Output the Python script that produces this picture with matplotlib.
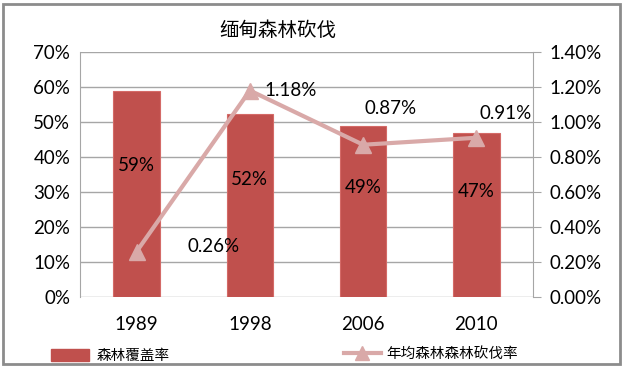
import matplotlib
matplotlib.use("Agg")
import matplotlib.pyplot as plt
from matplotlib.lines import Line2D
from matplotlib.patches import Patch, Rectangle
import numpy as np

plt.rcParams['font.family'] = ['Lato', 'Noto Sans CJK SC', 'DejaVu Sans']

title = "缅甸森林砍伐"
years = ["1989", "1998", "2006", "2010"]
coverage = [58.8, 52.3, 48.8, 47.0]           # % forest coverage (bars)
coverage_labels = ["59%", "52%", "49%", "47%"]
defor = [0.26, 1.18, 0.87, 0.91]              # % annual deforestation rate (line)
defor_labels = ["0.26%", "1.18%", "0.87%", "0.91%"]
bar_name = "森林覆盖率"
line_name = "年均森林森林砍伐率"

bar_color = "#C0504D"
line_color = "#D9A9A8"
fs = 13.5

fig = plt.figure(figsize=(6.29, 3.68), dpi=100)
ax = fig.add_axes([80/629, 1-297/368, (533-80)/629, (297-52)/368])
x = np.arange(len(years))

ax.bar(x, coverage, width=0.41, color=bar_color, edgecolor="#D46A67", linewidth=0.8, zorder=2)
ax.set_xlim(-0.5, len(years)-0.5)
ax.set_ylim(0, 70)
ax.set_yticks(np.arange(0, 71, 10))
ax.set_yticklabels([f"{v}%" for v in range(0, 71, 10)])
ax.set_xticks(x)
ax.set_xticklabels(years)
ax.grid(axis='y', color="#A6A6A6", linewidth=1, zorder=0)
ax.set_axisbelow(True)
for s in ['top', 'right', 'bottom']:
    ax.spines[s].set_visible(False)
ax.spines['left'].set_color("#A6A6A6")
ax.tick_params(axis='y', length=0, pad=7, labelsize=fs)
ax.tick_params(axis='x', length=0, pad=14, labelsize=fs)

for xi, v, lab in zip(x, coverage, coverage_labels):
    ax.text(xi, v*0.64, lab, ha='center', va='center', fontsize=fs, color='black', zorder=3)

ax2 = ax.twinx()
ax2.plot(x, defor, color=line_color, linewidth=3, marker='^', markersize=11,
         markerfacecolor=line_color, markeredgecolor=line_color, zorder=4)
ax2.set_ylim(0, 1.4)
ax2.set_yticks(np.arange(0, 1.41, 0.2))
ax2.set_yticklabels([f"{v:.2f}%" for v in np.arange(0, 1.41, 0.2)])
for s in ['top', 'left', 'bottom']:
    ax2.spines[s].set_visible(False)
ax2.spines['right'].set_color("#A6A6A6")
ax2.tick_params(axis='y', length=6, color="#A6A6A6", pad=6, labelsize=fs)

offsets = [(0.68, 0.03), (0.36, 0.0), (0.24, 0.21), (0.26, 0.14)]
for xi, v, lab, (dx, dy) in zip(x, defor, defor_labels, offsets):
    ax2.text(xi + dx, v + dy, lab, ha='center', va='center', fontsize=fs, color='black', zorder=5)

fig.text(278/629, 1-30/368, title, ha='center', va='center', fontsize=14)

# legends
h1 = Patch(facecolor=bar_color, edgecolor=bar_color)
fig.legend([h1], [bar_name], loc='center left', bbox_to_anchor=(38/629, 1-356/368),
           frameon=False, fontsize=10.5, handlelength=2.6, handleheight=0.8, handletextpad=0.5)
h2 = Line2D([0], [0], color=line_color, linewidth=3, marker='^', markersize=10,
            markerfacecolor=line_color, markeredgecolor=line_color)
fig.legend([h2], [line_name], loc='center left', bbox_to_anchor=(331/629, 1-354/368),
           frameon=False, fontsize=10.5, handlelength=2.5, handletextpad=0.4)

fig.patches.append(Rectangle((3/629, 4/368), 617/629, 360/368, transform=fig.transFigure,
                             fill=False, edgecolor="#8C8C8C", linewidth=2))

fig.savefig("out.png", dpi=100)
